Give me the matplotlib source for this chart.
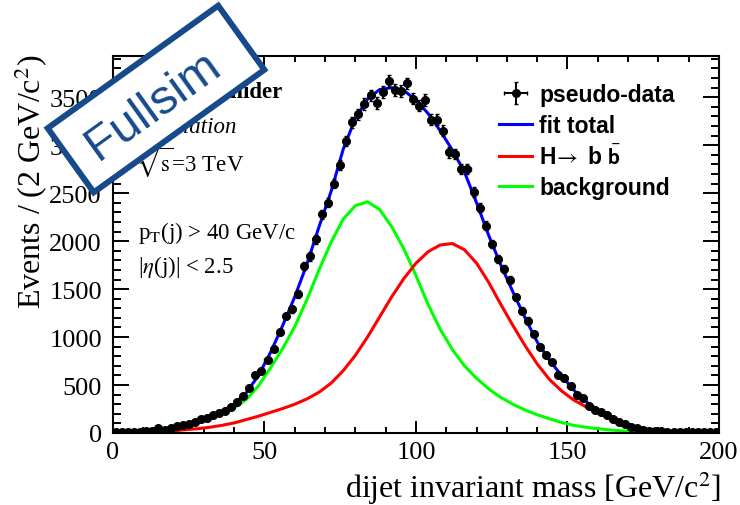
import numpy as np
import matplotlib.pyplot as plt
import matplotlib.transforms as mtransforms
from matplotlib.patches import Rectangle

plt.rcParams['font.family'] = ['Liberation Serif', 'DejaVu Serif']

# pseudo-data, 2 GeV bins
mass = np.arange(1, 200, 2)
counts = np.array([
    12, 12, 10, 13, 15, 17, 22, 55, 35, 48,
    75, 85, 95, 115, 145, 158, 188, 205, 230, 268,
    320, 390, 470, 600, 650, 765, 875, 1050, 1220, 1290,
    1450, 1740, 1840, 2020, 2280, 2400, 2600, 2790, 3045, 3240,
    3320, 3430, 3520, 3440, 3555, 3670, 3575, 3565, 3645, 3485,
    3410, 3470, 3265, 3265, 3150, 2925, 2910, 2750, 2750, 2510,
    2350, 2160, 1970, 1810, 1710, 1600, 1415, 1275, 1170, 1030,
    900, 815, 736, 605, 570, 486, 400, 360, 285, 243,
    215, 187, 146, 111, 94, 66, 49, 35, 26, 20,
    18, 15, 12, 14, 10, 9, 10, 7, 6, 8])

# fit curves read every 4 GeV
curve_x = np.arange(0, 201, 4)
fit_total = [0, 3, 8, 15, 30, 50, 80, 115, 165, 225,
             300, 420, 600, 840, 1120, 1420, 1760, 2150, 2520, 2960,
             3280, 3480, 3580, 3600, 3570, 3470, 3330, 3150, 2950, 2720,
             2400, 2060, 1750, 1470, 1200, 950, 760, 600, 450, 330,
             240, 170, 110, 65, 38, 20, 10, 5, 2, 1, 0]
signal = [0, 0, 2, 5, 12, 22, 35, 45, 60, 80,
          105, 140, 175, 215, 255, 300, 355, 425, 520, 650,
          810, 1000, 1210, 1420, 1610, 1770, 1890, 1960, 1975, 1910,
          1770, 1570, 1340, 1120, 910, 720, 560, 440, 345, 275,
          220, 165, 110, 70, 40, 22, 12, 6, 3, 1, 0]
background = [0, 5, 10, 20, 35, 55, 80, 110, 150, 200,
              260, 350, 490, 680, 880, 1110, 1390, 1700, 1990, 2230,
              2370, 2410, 2330, 2150, 1920, 1640, 1340, 1080, 870, 700,
              570, 460, 370, 300, 240, 190, 150, 110, 80, 60,
              45, 32, 22, 15, 10, 6, 4, 2, 1, 0, 0]

fig = plt.figure(figsize=(7.4, 5.06), dpi=100)
ax = fig.add_axes([0.1527, 0.1423, 0.8189, 0.7451])

l_bkg, = ax.plot(curve_x, background, color=(0, 1, 0), lw=2.2)
l_sig, = ax.plot(curve_x, signal, color=(1, 0, 0), lw=2.2)
l_fit, = ax.plot(curve_x, fit_total, color=(0, 0, 1), lw=2.2)
data = ax.errorbar(mass, counts, yerr=np.sqrt(counts), xerr=1, fmt='o',
                   color='k', ms=5.5, lw=1.4, capsize=1.5, zorder=5)

ax.set_xlim(0, 200)
ax.set_ylim(0, 3930)
ax.set_xticks([0, 50, 100, 150, 200])
ax.set_xticks(np.arange(0, 201, 10), minor=True)
ax.set_yticks(np.arange(0, 3501, 500))
ax.set_yticks(np.arange(0, 3901, 100), minor=True)
ax.tick_params(which='both', direction='in', top=True, right=True, width=1.4,
               labelsize=19)
ax.tick_params(axis='x', which='major', length=9, pad=6)
ax.tick_params(axis='x', which='minor', length=4.5)
ax.tick_params(axis='y', which='major', length=11.5, pad=8)
ax.tick_params(axis='y', which='minor', length=5.8)
for s in ax.spines.values():
    s.set_linewidth(1.5)

fig.text(721 / 740, 1 - 488 / 506, r'dijet invariant mass [GeV/c$^{2}$]',
         ha='right', va='center', fontsize=23, math_fontfamily='stix')
fig.text(31 / 740, 1 - 55 / 506, r'Events / (2 GeV/c$^{2}$)', rotation=90,
         ha='center', va='top', fontsize=23, math_fontfamily='stix')

# labels inside the frame
ax.text(0.041, 0.907, 'Muon Collider', transform=ax.transAxes, fontsize=16.5,
        fontweight='bold', va='center')
ax.text(0.041, 0.812, 'Simulation', transform=ax.transAxes, fontsize=16.5,
        style='italic', va='center')
ax.text(0.038, 0.719, r'$\sqrt{\mathrm{s}}$=3 TeV', transform=ax.transAxes,
        fontsize=16.5, va='center', math_fontfamily='stix')
ax.text(0.041, 0.533, r'p$_{\mathrm{T}}$(j) > 40 GeV/c', transform=ax.transAxes,
        fontsize=16.5, va='center', math_fontfamily='stix')
ax.text(0.041, 0.443, r'|$\eta$(j)| < 2.5', transform=ax.transAxes,
        fontsize=16.5, va='center', math_fontfamily='stix')

leg = ax.legend([data, l_fit, l_sig, l_bkg],
                ['pseudo-data', 'fit total',
                 r'H$\!\rightarrow$ b $\bar{\mathbf{b}}$', 'background'],
                loc='upper left', bbox_to_anchor=(499 / 740, 1 - 84 / 506),
                bbox_transform=fig.transFigure, frameon=False,
                prop={'family': 'Liberation Sans', 'weight': 'bold',
                      'size': 16.5},
                handlelength=1.45, handletextpad=0.3, labelspacing=0.34,
                borderpad=0, borderaxespad=0)
leg.get_texts()[2].set_math_fontfamily('stixsans')

# Fullsim stamp
cx, cy = 156, 506 - 100
rot = mtransforms.Affine2D().rotate_deg_around(cx, cy, 35.7)
stamp = Rectangle((cx - 105, cy - 39.5), 210, 79, fc='white', ec='#174a8b',
                  lw=4.3, transform=rot, zorder=10)
fig.patches.append(stamp)
fig.text((cx - 3) / 740, (cy - 6) / 506, 'Fullsim', rotation=35.7,
         rotation_mode='anchor', ha='center', va='center', fontsize=35,
         color='#174a8b', family='Liberation Sans', zorder=11)

fig.savefig('out.png', dpi=100)
